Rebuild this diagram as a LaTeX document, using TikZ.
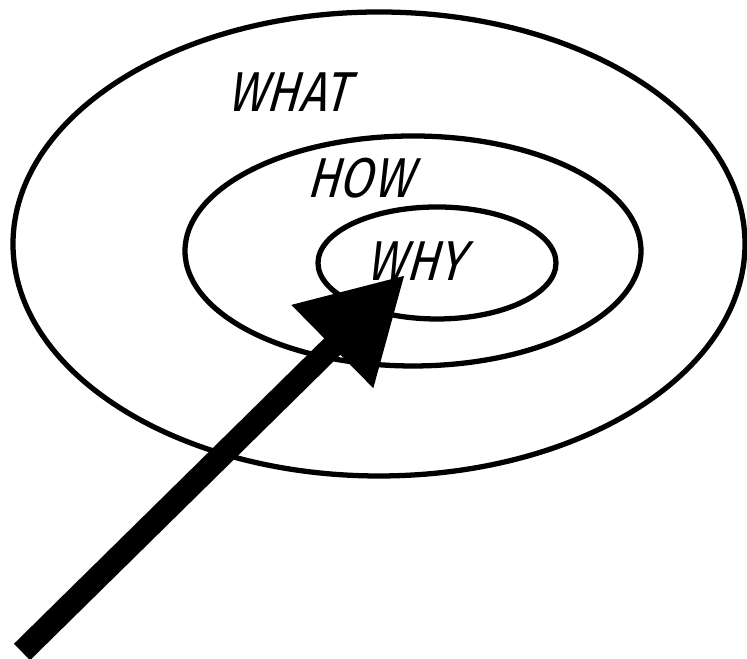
\documentclass[tikz,border=0pt]{standalone}
\usepackage{fontspec}
\newfontfamily\handfont{Fira Sans}[FakeSlant=0.28,FakeStretch=0.85]
\usetikzlibrary{arrows.meta}
\tikzset{ring/.style={black, line width=1.5pt},
  word/.style={font=\handfont\fontsize{16}{16}\selectfont, inner sep=0pt}}
\begin{document}
\begin{tikzpicture}
\useasboundingbox (0,0) rectangle (7.47,6.59);
\draw[ring] (3.79,4.15) ellipse (3.66 and 2.32);
\draw[ring] (4.13,4.08) ellipse (2.28 and 1.15);
\draw[ring] (4.37,3.96) ellipse (1.19 and 0.56);
\node[word] (what) at (2.87,5.67) {WHAT};
\node[word] (how) at (3.59,4.81) {HOW};
\node[word] (why) at (4.15,3.98) {WHY};
\coordinate (tail) at (0.22,0.07);
\coordinate (target) at (4.05,3.84);
\draw[line width=0.23cm, -{Triangle[length=1.02cm, width=1.1cm]}] (tail) -- (target);
\end{tikzpicture}
\end{document}
